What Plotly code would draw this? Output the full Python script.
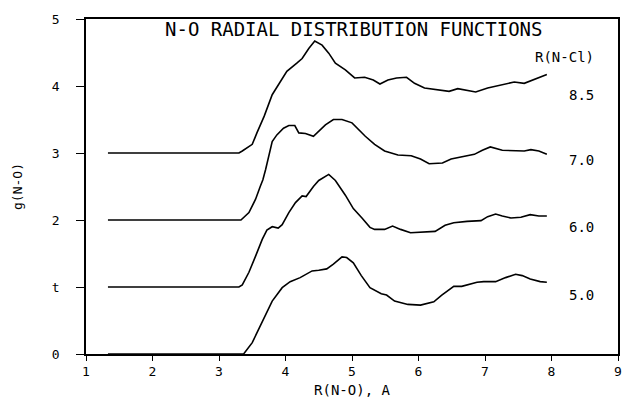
import plotly.graph_objects as go

# R(N-Cl) = 5.0 (offset 0)
r_50 = [1.33, 3.37, 3.50, 3.65, 3.80, 3.95, 4.07, 4.22, 4.40, 4.50, 4.62, 4.72, 4.85, 4.92, 5.02,
        5.14, 5.27, 5.44, 5.52, 5.64, 5.84, 6.03, 6.23, 6.35, 6.53, 6.65, 6.75, 6.88, 6.98,
        7.16, 7.31, 7.46, 7.56, 7.68, 7.83, 7.93]
g_50 = [0.00, 0.00, 0.17, 0.47, 0.79, 0.99, 1.08, 1.14, 1.24, 1.25, 1.27, 1.34, 1.45, 1.44, 1.36,
        1.17, 0.99, 0.90, 0.88, 0.79, 0.74, 0.73, 0.78, 0.88, 1.01, 1.01, 1.04, 1.07, 1.08,
        1.08, 1.14, 1.19, 1.17, 1.12, 1.08, 1.07]

# R(N-Cl) = 6.0 (offset 1)
r_60 = [1.33, 3.30, 3.35, 3.45, 3.55, 3.65, 3.72, 3.80, 3.89, 3.95, 4.05, 4.15, 4.25, 4.31, 4.42,
        4.50, 4.65, 4.75, 4.90, 5.02, 5.15, 5.27, 5.34, 5.49, 5.61, 5.73, 5.88, 6.08, 6.25,
        6.40, 6.53, 6.73, 6.94, 7.04, 7.16, 7.26, 7.39, 7.54, 7.68, 7.81, 7.93]
g_60 = [0.00, 0.00, 0.03, 0.22, 0.46, 0.71, 0.85, 0.90, 0.88, 0.93, 1.11, 1.26, 1.36, 1.35, 1.50,
        1.59, 1.68, 1.59, 1.37, 1.17, 1.03, 0.89, 0.86, 0.86, 0.91, 0.86, 0.81, 0.82, 0.83,
        0.92, 0.96, 0.98, 0.99, 1.05, 1.09, 1.06, 1.03, 1.04, 1.08, 1.06, 1.06]

# R(N-Cl) = 7.0 (offset 2)
r_70 = [1.33, 3.33, 3.45, 3.55, 3.62, 3.66, 3.70, 3.75, 3.80, 3.87, 3.97, 4.05, 4.14, 4.20, 4.30,
        4.42, 4.50, 4.60, 4.72, 4.85, 5.00, 5.10, 5.20, 5.34, 5.49, 5.59, 5.69, 5.89, 6.03,
        6.16, 6.36, 6.49, 6.64, 6.84, 6.96, 7.08, 7.26, 7.44, 7.59, 7.69, 7.81, 7.93]
g_70 = [0.00, 0.00, 0.11, 0.31, 0.50, 0.60, 0.75, 0.98, 1.17, 1.27, 1.37, 1.41, 1.41, 1.30, 1.29,
        1.25, 1.32, 1.42, 1.50, 1.50, 1.45, 1.35, 1.25, 1.13, 1.03, 1.00, 0.97, 0.96, 0.91,
        0.84, 0.85, 0.91, 0.94, 0.98, 1.04, 1.09, 1.04, 1.03, 1.03, 1.05, 1.03, 0.98]

# R(N-Cl) = 8.5 (offset 3)
r_85 = [1.33, 3.30, 3.35, 3.50, 3.57, 3.68, 3.80, 3.93, 4.02, 4.17, 4.25, 4.35, 4.44, 4.55, 4.65,
        4.75, 4.90, 5.04, 5.19, 5.32, 5.42, 5.54, 5.67, 5.82, 5.94, 6.09, 6.29, 6.46, 6.59,
        6.74, 6.86, 7.04, 7.24, 7.44, 7.59, 7.74, 7.93]
g_85 = [0.00, 0.00, 0.03, 0.13, 0.30, 0.55, 0.87, 1.07, 1.22, 1.34, 1.41, 1.56, 1.67, 1.61, 1.49,
        1.34, 1.24, 1.12, 1.13, 1.09, 1.03, 1.09, 1.12, 1.13, 1.04, 0.97, 0.94, 0.92, 0.96,
        0.93, 0.91, 0.97, 1.01, 1.06, 1.04, 1.10, 1.17]

series_r = [r_50, r_60, r_70, r_85]
series_g = [g_50, g_60, g_70, g_85]
offsets = [0, 1, 2, 3]
rncl_labels = ["5.0", "6.0", "7.0", "8.5"]
label_y = [0.88, 1.89, 2.89, 3.87]

x_ticks = [1, 2, 3, 4, 5, 6, 7, 8, 9]
y_ticks = [0, 1, 2, 3, 4, 5]
y_ticktext = ["0", "t", "2", "3", "4", "5"]

FONT = "DejaVu Sans Mono"

fig = go.Figure()
for r, g, off in zip(series_r, series_g, offsets):
    fig.add_trace(go.Scatter(x=r, y=[v + off for v in g], mode="lines",
                             line=dict(color="black", width=1.6),
                             showlegend=False, hoverinfo="skip"))

for lab, ly in zip(rncl_labels, label_y):
    fig.add_annotation(x=8.45, y=ly, text=lab, showarrow=False, xref="x", yref="y",
                       font=dict(family=FONT, size=14, color="black"))
fig.add_annotation(x=8.19, y=4.43, text="R(N-Cl)", showarrow=False, xref="x", yref="y",
                   font=dict(family=FONT, size=14, color="black"))
fig.add_annotation(x=5.03, y=4.85, text="N-O RADIAL DISTRIBUTION FUNCTIONS", showarrow=False,
                   xref="x", yref="y", font=dict(family=FONT, size=19, color="black"))

fig.update_layout(
    width=627, height=401,
    margin=dict(l=86, r=5, t=19, b=46),
    plot_bgcolor="white", paper_bgcolor="white",
    font=dict(family=FONT, size=13, color="black"),
    xaxis=dict(range=[1, 9], tickvals=x_ticks, ticktext=[str(v) for v in x_ticks],
               showgrid=False, zeroline=False, showline=True, linecolor="black", linewidth=1.5,
               mirror=True, ticks="outside", ticklen=5, tickcolor="black",
               title=dict(text="R(N-O), A", standoff=7, font=dict(family=FONT, size=14))),
    yaxis=dict(range=[0, 5], tickvals=y_ticks, ticktext=y_ticktext,
               showgrid=False, zeroline=False, showline=True, linecolor="black", linewidth=1.5,
               mirror=True, ticks="outside", ticklen=8, tickcolor="black", ticklabelstandoff=14,
               title=dict(text="g(N-O)", standoff=26, font=dict(family=FONT, size=13))),
)

fig.write_html("out.html")
